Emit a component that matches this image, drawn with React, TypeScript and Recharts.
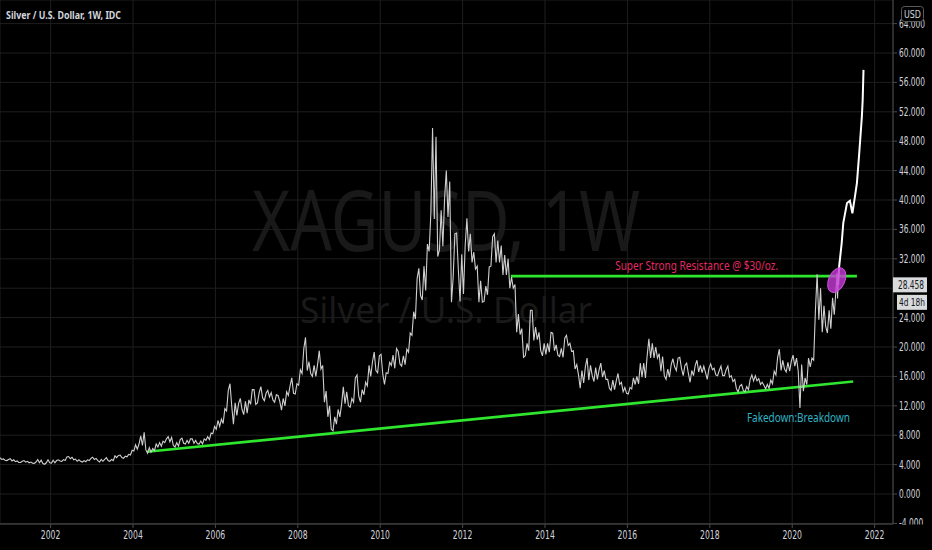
import React from 'react';
import {
  ComposedChart,
  Line,
  XAxis,
  YAxis,
  CartesianGrid,
  ReferenceDot,
} from 'recharts';

const firstMonth = 2000 + 9 / 12;

const monthLows = [
  4.7, 4.6, 4.55,
  4.5, 4.4, 4.3, 4.28, 4.33, 4.25, 4.2, 4.15, 4.25, 4.15, 4.05, 4.25,
  4.2, 4.25, 4.5, 4.45, 4.55, 4.8, 4.65, 4.45, 4.45, 4.35, 4.4, 4.55,
  4.7, 4.55, 4.35, 4.45, 4.55, 4.45, 4.55, 4.95, 4.95, 4.85, 5.05, 5.3,
  5.85, 6.1, 6.6, 6.0, 5.55, 5.7, 5.9, 6.4, 6.5, 7.0, 7.1, 6.6,
  6.4, 6.5, 6.9, 6.8, 6.9, 6.9, 6.85, 6.8, 6.8, 7.3, 7.4, 8.2,
  8.8, 9.2, 9.6, 11.3, 12.0, 9.5, 10.7, 11.5, 10.8, 11.0, 12.2, 12.2,
  12.4, 13.1, 12.7, 13.2, 12.8, 12.5, 12.6, 11.4, 12.0, 13.4, 13.7, 13.6,
  14.8, 16.4, 16.8, 16.4, 16.0, 16.0, 17.0, 12.5, 10.5, 8.8, 8.6, 9.5,
  10.5, 12.3, 12.0, 11.8, 12.5, 13.3, 12.5, 13.5, 14.7, 16.0, 16.8, 16.5,
  16.3, 14.9, 16.4, 17.5, 17.1, 17.7, 17.4, 17.6, 19.3, 21.6, 23.8, 27.0,
  26.4, 27.7, 33.0, 37.4, 32.3, 33.2, 33.7, 37.7, 26.1, 29.5, 30.6, 26.2,
  27.2, 33.0, 31.5, 30.6, 26.1, 26.1, 26.2, 27.1, 31.0, 31.5, 31.5, 29.8,
  29.8, 28.0, 28.0, 22.0, 21.7, 18.6, 18.8, 19.5, 20.9, 21.0, 19.5, 18.8,
  19.0, 19.3, 19.5, 18.9, 18.7, 18.6, 20.2, 19.4, 17.0, 16.2, 14.4, 15.1,
  15.5, 16.1, 15.3, 15.6, 15.9, 15.6, 14.4, 14.1, 14.2, 14.9, 13.9, 13.7,
  13.6, 14.3, 14.9, 15.0, 15.9, 15.8, 18.5, 18.5, 18.5, 16.7, 16.1, 15.6,
  15.9, 17.3, 16.8, 17.1, 16.1, 16.4, 15.2, 16.1, 16.6, 16.5, 16.5, 15.6,
  16.9, 16.2, 16.1, 16.1, 16.1, 15.9, 15.3, 14.3, 13.9, 14.1, 13.9, 14.2,
  15.4, 15.4, 14.9, 14.8, 14.3, 14.4, 15.0, 16.2, 16.8, 17.0, 16.6, 16.7,
  17.4, 16.7, 11.7, 14.0, 14.9, 17.3, 18.2, 23.7, 22.0, 22.8, 21.9, 22.5,
  24.4,
];

const monthHighs = [
  4.95, 4.78, 4.7,
  4.8, 4.65, 4.5, 4.45, 4.55, 4.45, 4.35, 4.35, 4.7, 4.6, 4.25, 4.65,
  4.6, 4.55, 4.65, 4.68, 5.05, 5.1, 5.0, 4.75, 4.65, 4.55, 4.65, 4.85,
  5.0, 4.85, 4.7, 4.7, 4.95, 4.7, 5.2, 5.25, 5.3, 5.15, 5.4, 5.95,
  6.7, 6.8, 7.9, 8.4, 6.3, 6.2, 6.8, 7.0, 7.2, 7.5, 7.8, 7.7,
  7.0, 7.4, 7.6, 7.3, 7.5, 7.5, 7.3, 7.2, 7.5, 7.8, 8.3, 9.2,
  10.0, 10.2, 11.6, 14.1, 15.0, 12.4, 12.3, 13.0, 12.6, 12.8, 14.2, 14.2,
  13.8, 14.6, 13.7, 14.1, 13.8, 13.5, 13.4, 13.0, 13.9, 14.7, 15.8, 15.0,
  16.9, 19.8, 21.3, 18.0, 17.5, 17.6, 19.5, 17.5, 14.0, 12.0, 10.5, 11.5,
  12.2, 14.6, 13.9, 13.0, 15.8, 16.2, 14.2, 15.2, 17.5, 18.0, 19.3, 18.8,
  19.0, 16.5, 17.9, 18.9, 19.8, 19.4, 18.8, 19.7, 21.9, 24.8, 29.3, 30.7,
  31.0, 34.0, 38.2, 49.8, 48.6, 38.6, 40.2, 44.0, 42.5, 35.4, 35.5, 32.6,
  33.8, 37.5, 35.4, 32.9, 31.0, 29.0, 28.3, 30.9, 35.0, 35.4, 34.5, 33.8,
  32.5, 32.0, 29.5, 28.5, 24.5, 22.5, 20.5, 25.0, 25.0, 22.7, 22.0, 20.5,
  20.5, 22.0, 21.9, 20.3, 19.8, 21.2, 21.6, 20.5, 19.5, 17.6, 16.8, 17.3,
  18.5, 17.5, 17.2, 16.9, 17.8, 16.8, 15.6, 15.5, 15.4, 16.4, 15.2, 14.5,
  14.5, 15.8, 16.0, 17.8, 17.8, 18.8, 21.1, 20.5, 20.0, 19.1, 18.7, 17.0,
  17.6, 18.4, 18.5, 18.6, 17.5, 17.8, 16.8, 17.5, 18.2, 17.5, 17.4, 17.1,
  17.7, 17.1, 16.8, 17.4, 16.9, 17.4, 16.1, 15.6, 14.7, 14.9, 14.6, 15.6,
  16.2, 16.1, 15.7, 15.2, 14.9, 15.5, 16.7, 18.6, 19.7, 18.2, 17.9, 18.1,
  18.9, 18.5, 17.6, 15.8, 18.5, 18.5, 24.9, 29.9, 28.0, 25.6, 25.0, 26.7,
  27.9,
];

// last weeks before the snapshot (close 28.458)
const tailDates = [2021.085, 2021.1, 2021.115];
const tailValues = [30.1, 26.6, 28.458];

// hand-drawn projection path
const projDates = [2021.115, 2021.14, 2021.2, 2021.24, 2021.33, 2021.4, 2021.46, 2021.52, 2021.57, 2021.62, 2021.65, 2021.69, 2021.71, 2021.73];
const projValues = [28.46, 31.0, 34.1, 36.9, 39.6, 39.9, 38.2, 40.4, 42.3, 45.9, 48.2, 51.3, 53.6, 57.7];

const supportDates = [2004.34, 2021.48];
const supportValues = [5.75, 15.3];
const resistDates = [2013.17, 2021.57];
const resistValues = [29.65, 29.65];

const yearTicks = [2002, 2004, 2006, 2008, 2010, 2012, 2014, 2016, 2018, 2020, 2022];
const priceTicks = [-4, 0, 4, 8, 12, 16, 20, 24, 28, 32, 36, 40, 44, 48, 52, 56, 60, 64];
const lastPrice = 28.458;
const countdown = '4d 18h';
const xDomain: [number, number] = [2000.772, 2022.446];
const yDomain: [number, number] = [-4.08, 67.21];

const narrow = '"DejaVu Sans Condensed", "Liberation Sans Narrow", "Liberation Sans", sans-serif';
const axisText = '#d1d4dc';
const green = '#2ee62e';

// width of a condensed numeric label
const numWidth = (s: string) => s.replace(/[^0-9]/g, '').length * 4.75 + (s.includes('.') ? 2.3 : 0) + (s.includes('-') ? 3 : 0);

const toPoints = (ts: number[], vs: number[]) => ts.map((t, i) => ({ t, v: vs[i] }));

function buildPrice() {
  const pts: { t: number; v: number }[] = [];
  for (let i = 0; i < monthLows.length; i++) {
    const t0 = firstMonth + i / 12;
    const mid = (monthLows[i] + monthHighs[i]) / 2;
    const next = i + 1 < monthLows.length ? (monthLows[i + 1] + monthHighs[i + 1]) / 2 : tailValues[0];
    const up = next >= mid;
    pts.push({ t: t0 + 0.25 / 12, v: up ? monthLows[i] : monthHighs[i] });
    pts.push({ t: t0 + 0.75 / 12, v: up ? monthHighs[i] : monthLows[i] });
  }
  return pts.concat(toPoints(tailDates, tailValues));
}

const priceData = buildPrice();
const projData = toPoints(projDates, projValues);
const supportData = toPoints(supportDates, supportValues);
const resistData = toPoints(resistDates, resistValues);

const PriceTick = (props: any) => {
  const { x, y, payload } = props;
  if (payload.value === 28) return null; // hidden under the price tag
  const label = payload.value.toFixed(3);
  return (
    <text x={x} y={y} dy={4} fill={axisText} fontSize={11.5} fontFamily={narrow} textAnchor="start" textLength={numWidth(label)} lengthAdjust="spacingAndGlyphs">
      {label}
    </text>
  );
};

const YearTick = (props: any) => {
  const { x, y, payload } = props;
  const label = String(payload.value);
  return (
    <text x={x} y={y} dy={9} fill={axisText} fontSize={11.5} fontFamily={narrow} textAnchor="middle" textLength={19.6} lengthAdjust="spacingAndGlyphs">
      {label}
    </text>
  );
};

export default function App() {
  return (
    <div style={{ position: 'absolute', left: 0, top: 0, width: 932, height: 550, background: '#000', overflow: 'hidden' }}>
      <svg width={932} height={550} style={{ position: 'absolute', left: 0, top: 0 }}>
        <text x={446} y={251} fill="#191919" fontSize={84} fontFamily='"Noto Sans", sans-serif' textAnchor="middle" textLength={388} lengthAdjust="spacingAndGlyphs">
          XAGUSD, 1W
        </text>
        <text x={446} y={323} fill="#191919" fontSize={36} fontFamily='"Noto Sans", sans-serif' textAnchor="middle" textLength={292} lengthAdjust="spacingAndGlyphs">
          Silver / U.S. Dollar
        </text>
      </svg>
      <div style={{ position: 'absolute', left: 0, top: 0 }}>
        <ComposedChart width={932} height={550} margin={{ top: 0, right: 0, bottom: 0, left: 0 }}>
          <CartesianGrid stroke="#1e1e1e" strokeWidth={1} />
          <XAxis
            dataKey="t"
            type="number"
            domain={xDomain}
            allowDataOverflow
            ticks={yearTicks}
            height={26}
            tickSize={4}
            tickMargin={2}
            stroke="#4a4a4a"
            tick={<YearTick />}
          />
          <YAxis
            orientation="right"
            type="number"
            domain={yDomain}
            allowDataOverflow
            ticks={priceTicks}
            width={39}
            tickSize={4}
            tickMargin={2}
            stroke="#4a4a4a"
            tick={<PriceTick />}
          />
          <Line data={supportData} dataKey="v" stroke={green} strokeWidth={2.6} dot={false} activeDot={false} isAnimationActive={false} />
          <Line data={resistData} dataKey="v" stroke={green} strokeWidth={2.6} dot={false} activeDot={false} isAnimationActive={false} />
          <Line data={priceData} dataKey="v" stroke="#cfcfcf" strokeWidth={1.1} dot={false} activeDot={false} isAnimationActive={false} />
          <Line data={projData} dataKey="v" stroke="#ffffff" strokeWidth={2} dot={false} activeDot={false} isAnimationActive={false} />
          <ReferenceDot
            x={2021.08}
            y={29.1}
            ifOverflow="visible"
            shape={(p: any) => (
              <ellipse cx={p.cx} cy={p.cy} rx={8} ry={13} transform={`rotate(25 ${p.cx} ${p.cy})`} fill="#c73ad8" fillOpacity={0.8} stroke="#d04ee0" strokeWidth={1} />
            )}
          />
          <ReferenceDot
            x={2017.68}
            y={30.5}
            ifOverflow="visible"
            shape={(p: any) => (
              <text x={p.cx} y={p.cy} fill="#e22a63" fontSize={12} fontFamily='"Noto Sans", sans-serif' textAnchor="middle" textLength={163} lengthAdjust="spacingAndGlyphs">
                Super Strong Resistance @ $30/oz.
              </text>
            )}
          />
          <ReferenceDot
            x={2020.15}
            y={9.8}
            ifOverflow="visible"
            shape={(p: any) => (
              <text x={p.cx} y={p.cy} fill="#2fb3c6" fontSize={12} fontFamily='"Noto Sans", sans-serif' textAnchor="middle" textLength={103} lengthAdjust="spacingAndGlyphs">
                Fakedown:Breakdown
              </text>
            )}
          />
          <ReferenceDot
            x={xDomain[1]}
            y={lastPrice}
            ifOverflow="visible"
            shape={(p: any) => (
              <g>
                <rect x={p.cx} y={p.cy - 7.5} width={34} height={15} fill="#d9dadc" />
                <text x={p.cx + 5} y={p.cy + 4} fill="#131722" fontSize={11.5} fontFamily={narrow} textLength={numWidth(lastPrice.toFixed(3))} lengthAdjust="spacingAndGlyphs">
                  {lastPrice.toFixed(3)}
                </text>
                <rect x={p.cx + 4} y={p.cy + 10} width={30} height={15} fill="#d9dadc" />
                <text x={p.cx + 6} y={p.cy + 21.5} fill="#131722" fontSize={11} fontFamily={narrow} textLength={26} lengthAdjust="spacingAndGlyphs">
                  {countdown}
                </text>
              </g>
            )}
          />
        </ComposedChart>
      </div>
      <svg width={932} height={550} style={{ position: 'absolute', left: 0, top: 0, pointerEvents: 'none' }}>
        <text x={6} y={19} fill={axisText} fontSize={11} fontWeight="bold" fontFamily='"Noto Sans", sans-serif' textLength={115} lengthAdjust="spacingAndGlyphs">
          Silver / U.S. Dollar, 1W, IDC
        </text>
        <rect x={901.5} y={6.5} width={22} height={15} rx={3} fill="#000" stroke="#5a5a5a" />
        <text x={904} y={18} fill={axisText} fontSize={10.5} fontFamily={narrow} textLength={17} lengthAdjust="spacingAndGlyphs">
          USD
        </text>
        <rect x={894} y={524.5} width={38} height={25} fill="#000" />
      </svg>
    </div>
  );
}
